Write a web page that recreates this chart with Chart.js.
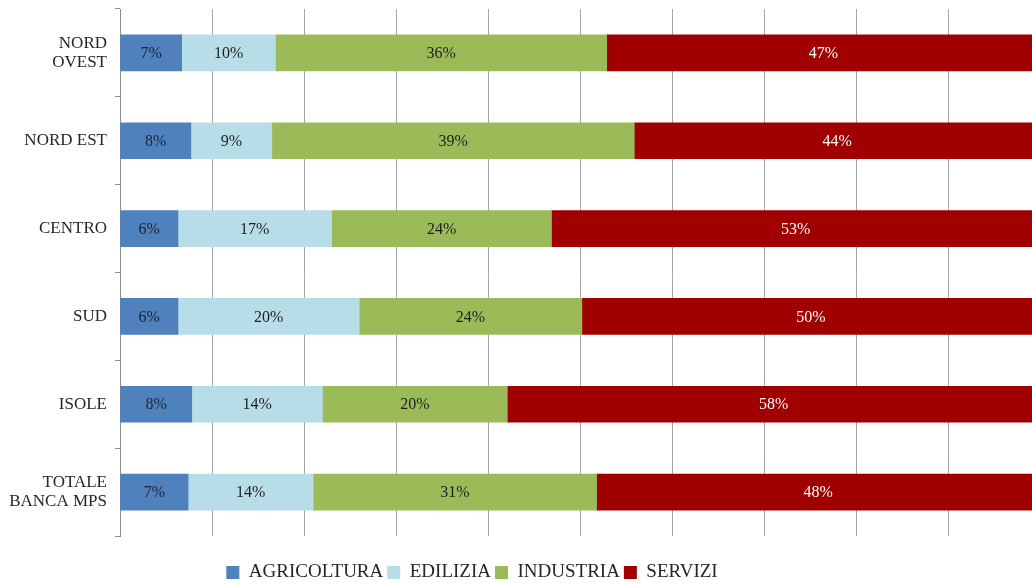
<!DOCTYPE html>
<html lang="it">
<head>
  <meta charset="UTF-8">
  <title>Settori per area</title>
  <script src="https://cdn.jsdelivr.net/npm/chart.js"></script>
  <style>
    html, body {
      margin: 0;
      padding: 0;
      background: #ffffff;
    }
    .chart-container {
      width: 1032px;
      height: 584px;
    }
  </style>
</head>
<body>

<div class="chart-container">
  <canvas id="settoriChart"></canvas>
</div>

<script>
  // Aree geografiche (asse verticale)
  const aree = [['NORD', 'OVEST'], 'NORD EST', 'CENTRO', 'SUD', 'ISOLE', ['TOTALE', 'BANCA MPS']];

  // Quote percentuali per settore
  const agricoltura = [6.7, 7.7, 6.3, 6.3, 7.8, 7.4];
  const edilizia    = [10.2, 8.8, 16.7, 19.7, 14.2, 13.6];
  const industria   = [36.0, 39.4, 23.9, 24.2, 20.1, 30.8];
  const servizi     = [47.1, 44.1, 53.1, 49.8, 57.9, 48.2];

  // Asse orizzontale: griglia ogni 10%, l'immagine taglia a ~99%
  const xMax = 99.13;
  const xStep = 10;

  const fontSerif = '"Liberation Serif", "DejaVu Serif", serif';

  // Etichette dentro le barre
  const etichettePlugin = {
    id: 'etichette',
    afterDatasetsDraw(chart) {
      const ctx = chart.ctx;
      ctx.save();
      ctx.font = '16px ' + fontSerif;
      ctx.textAlign = 'center';
      ctx.textBaseline = 'middle';
      chart.data.datasets.forEach(function(ds, i) {
        const meta = chart.getDatasetMeta(i);
        if (meta.hidden) return;
        ctx.fillStyle = ds.labelColor;
        meta.data.forEach(function(el, j) {
          const v = ds.data[j];
          ctx.fillText(Math.round(v) + '%', (el.x + el.base) / 2, el.y + 1);
        });
      });
      ctx.restore();
    }
  };

  // La legenda nell'originale e' centrata un po' piu' a sinistra
  const legendaSpostata = {
    id: 'legendaSpostata',
    afterLayout(chart) {
      if (chart.legend) chart.legend.right -= 88;
    }
  };

  const ctx = document.getElementById('settoriChart').getContext('2d');
  const settoriChart = new Chart(ctx, {
    type: 'bar',
    data: {
      labels: aree,
      datasets: [
        { label: 'AGRICOLTURA', data: agricoltura, backgroundColor: '#4f81bd', labelColor: '#1c2533' },
        { label: 'EDILIZIA', data: edilizia, backgroundColor: '#b7dde8', labelColor: '#1f1f1f' },
        { label: 'INDUSTRIA', data: industria, backgroundColor: '#9bbb59', labelColor: '#1f1f1f' },
        { label: 'SERVIZI', data: servizi, backgroundColor: '#a00000', labelColor: '#ffffff' }
      ]
    },
    options: {
      indexAxis: 'y',
      responsive: true,
      maintainAspectRatio: false,
      animation: false,
      layout: {
        padding: { top: 9, right: 0, bottom: -8, left: 0 }
      },
      datasets: {
        bar: {
          barThickness: 36,
          borderWidth: 0
        }
      },
      plugins: {
        legend: {
          position: 'bottom',
          labels: {
            font: { family: fontSerif, size: 19 },
            color: '#262626',
            boxWidth: 13,
            boxHeight: 13,
            padding: 4
          }
        },
        tooltip: { enabled: false }
      },
      scales: {
        x: {
          stacked: true,
          min: 0,
          max: xMax,
          afterFit: function(scale) { scale.height = 23; },
          ticks: { display: false, stepSize: xStep },
          grid: { color: '#a6a6a6', drawTicks: false },
          border: { display: false }
        },
        y: {
          stacked: true,
          afterFit: function(scale) {
            scale.width = 120;
            scale.paddingTop = 0;
            scale.paddingBottom = 0;
          },
          ticks: {
            font: { family: fontSerif, size: 17, lineHeight: 1.15 },
            color: '#262626',
            padding: 8
          },
          grid: {
            offset: true,
            drawOnChartArea: false,
            drawTicks: true,
            tickLength: 5,
            color: '#8c8c8c'
          },
          border: { display: true, color: '#8c8c8c' }
        }
      }
    },
    plugins: [etichettePlugin, legendaSpostata]
  });
</script>

</body>
</html>
